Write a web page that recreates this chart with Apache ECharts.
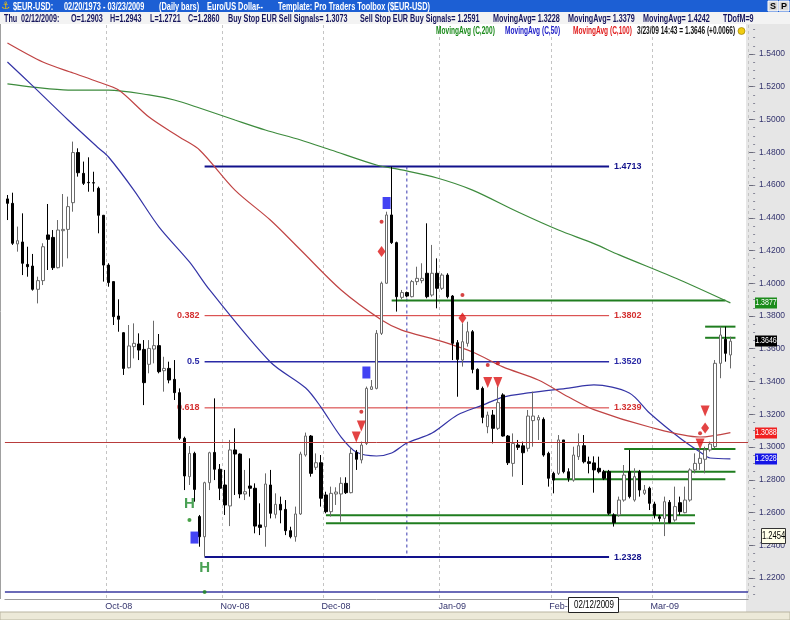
<!DOCTYPE html>
<html><head><meta charset="utf-8">
<script src="https://cdn.jsdelivr.net/npm/echarts@6/dist/echarts.min.js"></script>
<style>html,body{margin:0;padding:0;background:#fff}#c{width:790px;height:620px}</style>
</head><body><div id="c"></div>
<script>
const NF = "'Liberation Sans',Arial,sans-serif";

// ---------------- DATA ----------------
const catCount = 147; // 144 trading days (03 Sep 2008 - 23 Mar 2009) + 3 empty slots
const categories = Array.from({length: catCount}, (_, i) => String(i));

const opens = [1.4515,1.4488,1.4240,1.4252,1.4115,1.4105,1.3963,1.4016,1.4295,1.4280,
1.4095,1.4321,1.4329,1.4492,1.4798,1.4671,1.4616,1.4614,1.4580,1.4415,
1.4111,1.4010,1.3800,1.3698,1.3484,1.3613,1.3629,1.3596,1.3505,1.3598,
1.3619,1.3466,1.3480,1.3413,1.3332,1.3053,1.2819,1.2961,1.2575,1.2452,
1.2782,1.2967,1.2864,1.2768,1.2640,1.2982,1.2957,1.2713,1.2762,1.2748,
1.2524,1.2513,1.2768,1.2589,1.2650,1.2619,1.2489,1.2452,1.2591,1.2951,
1.3067,1.2876,1.2904,1.2707,1.2605,1.2713,1.2713,1.2778,1.2721,1.2967,
1.2921,1.3022,1.3352,1.3358,1.3694,1.4000,1.4417,1.4248,1.3914,1.3943,
1.3918,1.4010,1.4016,1.4061,1.3928,1.4061,1.3969,1.4050,1.3922,1.3637,
1.3531,1.3633,1.3704,1.3474,1.3358,1.3124,1.3195,1.3114,1.3318,1.3067,
1.2900,1.3012,1.3007,1.2992,1.3161,1.3165,1.3169,1.2961,1.2839,1.2839,
1.3043,1.2849,1.2798,1.2941,1.3008,1.2910,1.2903,1.2870,1.2849,1.2849,
1.2585,1.2585,1.2676,1.2849,1.2676,1.2849,1.2717,1.2748,1.2652,1.2574,
1.2564,1.2662,1.2554,1.2660,1.2599,1.2676,1.2860,1.2900,1.2925,1.2982,
1.3002,1.3511,1.3658,1.3562];
const highs = [1.4539,1.4553,1.4346,1.4427,1.4223,1.4179,1.4040,1.4244,1.4484,1.4325,
1.4386,1.4545,1.4529,1.4865,1.4824,1.4743,1.4769,1.4681,1.4590,1.4417,
1.4122,1.4010,1.3902,1.3702,1.3745,1.3755,1.3694,1.3653,1.3653,1.3771,
1.3690,1.3551,1.3521,1.3531,1.3358,1.3063,1.3006,1.2971,1.2585,1.2788,
1.2971,1.3297,1.2896,1.2860,1.3043,1.3114,1.2961,1.2860,1.2931,1.2778,
1.2656,1.2839,1.2860,1.2717,1.2697,1.2676,1.2513,1.2636,1.2971,1.3088,
1.3073,1.2961,1.2951,1.2727,1.2758,1.2754,1.2815,1.2815,1.2998,1.2982,
1.3033,1.3369,1.3409,1.3714,1.4010,1.4437,1.4712,1.4254,1.3959,1.3949,
1.4020,1.4101,1.4122,1.4366,1.4234,1.4152,1.4061,1.4061,1.3928,1.3653,
1.3755,1.3765,1.3714,1.3480,1.3369,1.3216,1.3226,1.3369,1.3328,1.3073,
1.3083,1.3043,1.3033,1.3226,1.3338,1.3195,1.3181,1.2971,1.2849,1.3073,
1.3043,1.2870,1.3002,1.3083,1.3073,1.2941,1.2943,1.2941,1.2860,1.2860,
1.2595,1.2697,1.2890,1.2982,1.2870,1.2860,1.2768,1.2758,1.2666,1.2585,
1.2697,1.2676,1.2758,1.2697,1.2758,1.2870,1.2961,1.2992,1.3002,1.3033,
1.3531,1.3735,1.3735,1.3674];
const lows = [1.4386,1.4234,1.4193,1.4050,1.4040,1.3955,1.3877,1.3989,1.4081,1.4081,
1.4091,1.4101,1.4152,1.4437,1.4651,1.4600,1.4559,1.4559,1.4305,1.4010,
1.3979,1.3745,1.3704,1.3440,1.3480,1.3541,1.3531,1.3256,1.3450,1.3511,
1.3450,1.3338,1.3389,1.3287,1.3043,1.2737,1.2768,1.2666,1.2391,1.2330,
1.2737,1.2798,1.2676,1.2585,1.2517,1.2707,1.2687,1.2676,1.2697,1.2473,
1.2462,1.2391,1.2564,1.2564,1.2534,1.2462,1.2442,1.2422,1.2585,1.2941,
1.2819,1.2860,1.2636,1.2595,1.2575,1.2646,1.2544,1.2713,1.2717,1.2860,
1.2900,1.3012,1.3348,1.3352,1.3684,1.3996,1.4240,1.3827,1.3902,1.3914,
1.3914,1.3989,1.4000,1.3908,1.3918,1.3847,1.3959,1.3908,1.3531,1.3307,
1.3491,1.3613,1.3450,1.3348,1.3145,1.3084,1.3022,1.3104,1.3063,1.2890,
1.2819,1.2982,1.2768,1.2972,1.3002,1.3043,1.2941,1.2758,1.2717,1.2829,
1.2839,1.2788,1.2788,1.2921,1.2900,1.2839,1.2721,1.2839,1.2798,1.2585,
1.2514,1.2574,1.2666,1.2686,1.2666,1.2697,1.2707,1.2615,1.2564,1.2544,
1.2456,1.2534,1.2544,1.2585,1.2595,1.2666,1.2839,1.2860,1.2839,1.2972,
1.2992,1.3420,1.3521,1.3480];
const closes = [1.4488,1.4244,1.4260,1.4122,1.4101,1.3963,1.4016,1.4223,1.4268,1.4095,
1.4325,1.4329,1.4468,1.4798,1.4675,1.4610,1.4614,1.4612,1.4415,1.4111,
1.4004,1.3796,1.3780,1.3480,1.3617,1.3633,1.3592,1.3393,1.3602,1.3619,
1.3460,1.3480,1.3409,1.3332,1.3053,1.2823,1.2961,1.2741,1.2452,1.2782,
1.2965,1.2864,1.2748,1.2646,1.2982,1.2957,1.2713,1.2727,1.2748,1.2517,
1.2509,1.2774,1.2595,1.2650,1.2615,1.2489,1.2452,1.2591,1.2957,1.3067,
1.2839,1.2904,1.2687,1.2605,1.2717,1.2725,1.2778,1.2721,1.2961,1.2925,
1.3012,1.3358,1.3368,1.3694,1.4000,1.4417,1.4248,1.3918,1.3943,1.3922,
1.4010,1.4030,1.4030,1.3918,1.4061,1.3969,1.4050,1.3918,1.3633,1.3535,
1.3643,1.3704,1.3474,1.3352,1.3181,1.3195,1.3114,1.3271,1.3067,1.2904,
1.3022,1.2998,1.2965,1.3189,1.3189,1.3181,1.2951,1.2809,1.2798,1.3043,
1.2849,1.2809,1.2951,1.3008,1.2910,1.2900,1.2860,1.2849,1.2809,1.2595,
1.2538,1.2676,1.2829,1.2697,1.2819,1.2737,1.2737,1.2656,1.2585,1.2564,
1.2666,1.2538,1.2636,1.2605,1.2676,1.2860,1.2900,1.2931,1.2982,1.3018,
1.3511,1.3684,1.3572,1.3646];

const monthStartIdx = [20, 43, 63, 86, 108, 128];
const monthLabels = ['Oct-08','Nov-08','Dec-08','Jan-09','Feb-09','Mar-09'];
const yTicks = [1.22,1.24,1.26,1.28,1.30,1.32,1.34,1.36,1.38,1.40,1.42,1.44,1.46,1.48,1.50,1.52,1.54];

// moving averages read at sample bars: [barIndex, value]
const ma200 = [[0,1.5217],[5,1.5198],[12,1.5180],[20,1.5180],[28,1.5150],[33,1.5119],[38,1.5070],[45,1.4997],
 [51,1.4936],[58,1.4875],[64,1.4814],[73,1.4722],[78,1.4692],[85,1.4643],[92,1.4569],[101,1.4435],[109,1.4325],
 [116,1.4242],[121,1.4173],[133,1.4020],[143,1.3880]];
const ma100 = [[0,1.5467],[7,1.5351],[13,1.5284],[18,1.5229],[22,1.5180],[28,1.5015],[34,1.4893],[38,1.4814],
 [45,1.4569],[52,1.4386],[58,1.4203],[66,1.3959],[74,1.3776],[78,1.3714],[85,1.3653],[92,1.3580],[98,1.3489],
 [105,1.3409],[111,1.3305],[116,1.3228],[127,1.3122],[137,1.3061],[143,1.3088]];
const ma50 = [[0,1.5351],[5,1.5205],[12,1.4997],[18,1.4826],[20,1.4771],[25,1.4569],[30,1.4343],[36,1.4130],
 [40,1.3959],[52,1.3519],[59,1.3360],[62,1.3244],[66,1.3061],[69,1.2969],[73,1.2945],[76,1.2963],[79,1.3024],
 [84,1.3085],[89,1.3195],[94,1.3256],[98,1.3305],[103,1.3330],[111,1.3360],[116,1.3379],[123,1.3330],
 [127,1.3208],[133,1.3055],[137,1.2969],[139,1.2933],[143,1.2928]];

// Fibonacci retracement
const fibLevels = [1.4713, 1.3802, 1.3520, 1.3239, 1.2328];
const fibRatios = ['', '0.382', '0.5', '0.618', ''];
const fibFrom = 39, fibTo = 119;
const fibVertIdx = 79;

// green support / resistance lines
const greenLevels = [1.3895, 1.3735, 1.3667, 1.2988, 1.2849, 1.2803, 1.2583, 1.2534];
const greenFrom   = [76, 138, 138, 122, 118, 108, 63, 63];
const greenTo     = [142, 144, 144, 144, 144, 142, 136, 136];

const stopLevel = 1.3032;
const baseLevel = 1.2115;

// signal markers [barIndex, value]
const blueSquares = [[37,1.2447],[71,1.3455],[75,1.4490]];
const redDiamonds = [[74,1.4194],[90,1.3788],[138,1.3116]];
const redDots = [[74,1.4376],[90,1.3928],[95,1.3501],[97,1.3511],[70,1.3216],[137,1.3084]];
const redTriangles = [[69,1.3061],[70,1.3128],[95,1.3394],[97,1.3394],[138,1.3220],[137,1.3019]];
const greenH = [[36,1.2655],[39,1.2264]];
const greenDots = [[36,1.2554],[39,1.2115]];

const tagValues = [1.3877, 1.3646, 1.3088, 1.2928];
const lowTag = 1.2454;
const cursorIdx = 116, cursorDate = '02/12/2009';

// ---------------- CHART ----------------
const yMin = 1.22 - 21 / 1637.5;
const yMax = 1.54 + 29 / 1637.5;
const minorTicks = [];
for (let v = 1.21; v <= 1.555; v += 0.005) minorTicks.push(+v.toFixed(3));
const labelIdx = monthStartIdx.map(i => i + 2);

const candleData = opens.map((o, i) => [o, closes[i], lows[i], highs[i]]);

const series = [];
series.push({
  type: 'candlestick', data: candleData, barWidth: 3, z: 4,
  itemStyle: { color: '#ffffff', color0: '#000000', borderColor: '#6a6a6a', borderColor0: '#000000', borderWidth: 1 },
  markLine: { symbol: 'none', silent: true, precision: 4, label: { show: false }, animation: false,
    data: [ { yAxis: stopLevel, lineStyle: { color: '#b83c3c', width: 1, type: 'solid' } },
            { yAxis: baseLevel, lineStyle: { color: '#3a3aa0', width: 1.5, type: 'solid' } } ] }
});
const maStyle = [[ma200, '#3d8b3d'], [ma50, '#3434a6'], [ma100, '#c04444']];
maStyle.forEach(([d, c]) => series.push({ type: 'line', data: d, showSymbol: false, smooth: 0.3, z: 3,
  lineStyle: { color: c, width: 1.2 } }));

const fibColor = ['#12128c', '#d43030', '#2a2aa6', '#d43030', '#12128c'];
const fibWidth = [2, 1, 1.5, 1, 2];
fibLevels.forEach((v, k) => {
  const c = fibColor[k];
  const lab = { fontFamily: NF, fontWeight: 'bold', fontSize: 9, color: c, distance: 5 };
  series.push({ type: 'line', z: 2, showSymbol: true, symbolSize: 0, lineStyle: { color: c, width: fibWidth[k] },
    data: [
      { value: [fibFrom, v], label: Object.assign({ show: fibRatios[k] !== '', position: 'left', formatter: fibRatios[k] }, lab) },
      { value: [fibTo, v], label: Object.assign({ show: true, position: 'right', formatter: v.toFixed(4) }, lab) }
    ] });
});
series.push({ type: 'line', z: 2, showSymbol: false, lineStyle: { color: '#3a3ab0', width: 1, type: [3, 3] },
  data: [[fibVertIdx, fibLevels[0]], [fibVertIdx, fibLevels[4]]] });
greenLevels.forEach((v, k) => series.push({ type: 'line', z: 2, showSymbol: false,
  lineStyle: { color: '#1f7d1f', width: 2 }, data: [[greenFrom[k], v], [greenTo[k], v]] }));

series.push({ type: 'scatter', z: 6, data: blueSquares, symbol: 'rect', symbolSize: [8, 12], itemStyle: { color: '#1414f0' } });
series.push({ type: 'scatter', z: 6, data: redDiamonds, symbol: 'diamond', symbolSize: [8, 11], itemStyle: { color: '#dc1414' } });
series.push({ type: 'scatter', z: 6, data: redDots, symbol: 'circle', symbolSize: 4, itemStyle: { color: '#cc1414' } });
series.push({ type: 'scatter', z: 6, data: redTriangles, symbol: 'triangle', symbolRotate: 180, symbolSize: [9, 11], itemStyle: { color: '#dc1414' } });
series.push({ type: 'scatter', z: 6, data: greenDots, symbol: 'circle', symbolSize: 4, itemStyle: { color: '#1a8a1a' } });
series.push({ type: 'scatter', z: 6, data: greenH, symbolSize: 1, itemStyle: { color: 'rgba(0,0,0,0)' },
  label: { show: true, position: 'inside', formatter: 'H', fontFamily: NF, fontWeight: 'bold', fontSize: 15, color: '#1d8a2a' } });

const option = {
  animation: false,
  backgroundColor: '#ffffff',
  grid: { left: 4.9, right: 41.9, top: 25, bottom: 21, containLabel: false },
  xAxis: {
    type: 'category', data: categories, boundaryGap: true,
    axisLine: { show: true, lineStyle: { color: '#9a9a9a' } },
    axisTick: { show: false },
    splitLine: { show: true, interval: (i) => monthStartIdx.includes(i), lineStyle: { color: '#c4c4c4', type: [3, 3], width: 1 } },
    axisLabel: { interval: (i) => labelIdx.includes(i), formatter: (v, i) => { const k = labelIdx.indexOf(i); return k >= 0 ? monthLabels[k] : ''; },
      color: '#34346e', fontFamily: NF, fontSize: 9, margin: 3 }
  },
  yAxis: [
    { type: 'value', position: 'right', min: yMin, max: yMax, offset: 7, scale: true,
      axisLine: { show: false }, splitLine: { show: false },
      axisTick: { show: true, inside: true, length: 6, customValues: yTicks, lineStyle: { color: '#6a6a7a' } },
      axisLabel: { customValues: yTicks, formatter: v => v.toFixed(4), color: '#34346e', fontFamily: NF, fontSize: 8.5, margin: 4 } },
    { type: 'value', position: 'right', min: yMin, max: yMax, offset: 7, scale: true,
      axisLine: { show: false }, splitLine: { show: false },
      axisTick: { show: true, inside: true, length: 2, customValues: minorTicks, lineStyle: { color: '#8a8a9a' } },
      axisLabel: { show: false } }
  ],
  series: series
};

const chart = echarts.init(document.getElementById('c'));
chart.setOption(option);

// ---------------- decorations ----------------
const yPix = v => chart.convertToPixel({ yAxisIndex: 0 }, v);
const xPix = i => chart.convertToPixel({ xAxisIndex: 0 }, i);
const g = [];
const txt = (s, x, y, fill, font, align, sx, z) => ({ type: 'text', x: x, y: y, z: z || 50, scaleX: sx || 1,
  style: { text: s, fill: fill, font: font, textAlign: align || 'left', textVerticalAlign: 'middle' } });

g.push({ type: 'rect', z: -5, shape: { x: 746, y: 24, width: 44, height: 588 }, style: { fill: '#e6e6e6' } });
g.push({ type: 'rect', z: -5, shape: { x: 0, y: 612, width: 790, height: 8 }, style: { fill: '#ece9d8', stroke: '#b8b4a0', lineWidth: 1 } });
g.push({ type: 'line', z: -4, shape: { x1: 0.5, y1: 24, x2: 0.5, y2: 599 }, style: { stroke: '#a0a0a0', lineWidth: 1 } });
g.push({ type: 'rect', z: 40, shape: { x: 0, y: 0, width: 790, height: 12 }, style: { fill: '#1c5fd4' } });
g.push({ type: 'rect', z: 40, shape: { x: 0, y: 12, width: 790, height: 12 }, style: { fill: '#f3f3f3' } });
g.push(txt('\u2693', 1, 6, '#f2c200', 'bold 10px DejaVu Sans'));
const row1 = [['$EUR-USD:', 13], ['02/20/1973 - 03/23/2009', 64], ['(Daily bars)', 159], ['Euro/US Dollar', 207], ['--', 258], ['Template: Pro Traders Toolbox ($EUR-USD)', 278]];
row1.forEach(([s, x]) => g.push(txt(s, x, 6.5, '#ffffff', 'bold 11px ' + NF, 'left', 0.67)));
g.push({ type: 'rect', z: 45, shape: { x: 768, y: 1, width: 10, height: 10 }, style: { fill: '#d8d8d8', stroke: '#ffffff' } });
g.push({ type: 'rect', z: 45, shape: { x: 779, y: 1, width: 10, height: 10 }, style: { fill: '#d8d8d8', stroke: '#ffffff' } });
g.push(txt('S', 773, 6.5, '#000', 'bold 9px ' + NF, 'center', 1, 51));
g.push(txt('P', 784, 6.5, '#000', 'bold 9px ' + NF, 'center', 1, 51));
const row2 = [['Thu', 4], ['02/12/2009:', 21], ['O=1.2903', 71], ['H=1.2943', 110], ['L=1.2721', 150], ['C=1.2860', 188],
  ['Buy Stop EUR Sell Signals= 1.3073', 228], ['Sell Stop EUR Buy Signals= 1.2591', 360], ['MovingAvg= 1.3228', 493],
  ['MovingAvg= 1.3379', 568], ['MovingAvg= 1.4242', 643], ['TDofM=9', 723]];
row2.forEach(([s, x]) => g.push(txt(s, x, 18.5, '#16165c', 'bold 11px ' + NF, 'left', 0.655)));
const row3 = [['MovingAvg (C,200)', 436, '#1a8a1a'], ['MovingAvg (C,50)', 505, '#2020c8'], ['MovingAvg (C,100)', 573, '#e01c1c'], ['3/23/09 14:43 = 1.3646 (+0.0066)', 637, '#111111']];
row3.forEach(([s, x, c]) => g.push(txt(s, x, 31.5, c, 'bold 10.5px ' + NF, 'left', 0.625)));
g.push({ type: 'circle', z: 50, shape: { cx: 741.5, cy: 31, r: 3.5 }, style: { fill: '#f0cc10', stroke: '#8a7000', lineWidth: 0.6 } });

const tagFill = ['#1c8c1c', '#000000', '#f02020', '#1414e6'];
tagValues.forEach((v, k) => {
  const y = Math.round(yPix(v));
  g.push({ type: 'rect', z: 60, shape: { x: 755, y: y - 5.5, width: 22, height: 11 }, style: { fill: tagFill[k] } });
  g.push(txt(v.toFixed(4), 766, y, '#ffffff', '9px ' + NF, 'center', 0.78, 61));
});
{
  const y = Math.round(yPix(lowTag));
  g.push({ type: 'rect', z: 60, shape: { x: 761.5, y: y - 7.5, width: 24, height: 15 }, style: { fill: '#ffffea', stroke: '#333333', lineWidth: 1 } });
  g.push(txt(lowTag.toFixed(4), 773.5, y, '#000', '10px ' + NF, 'center', 0.76, 61));
}
{
  const x = Math.round(xPix(cursorIdx));
  g.push({ type: 'rect', z: 60, shape: { x: x - 25.5, y: 597.5, width: 50, height: 15 }, style: { fill: '#ffffff', stroke: '#222222', lineWidth: 1 } });
  g.push(txt(cursorDate, x, 605, '#000', '10px ' + NF, 'center', 0.8, 61));
}
chart.setOption({ graphic: g });
</script>
</body></html>
